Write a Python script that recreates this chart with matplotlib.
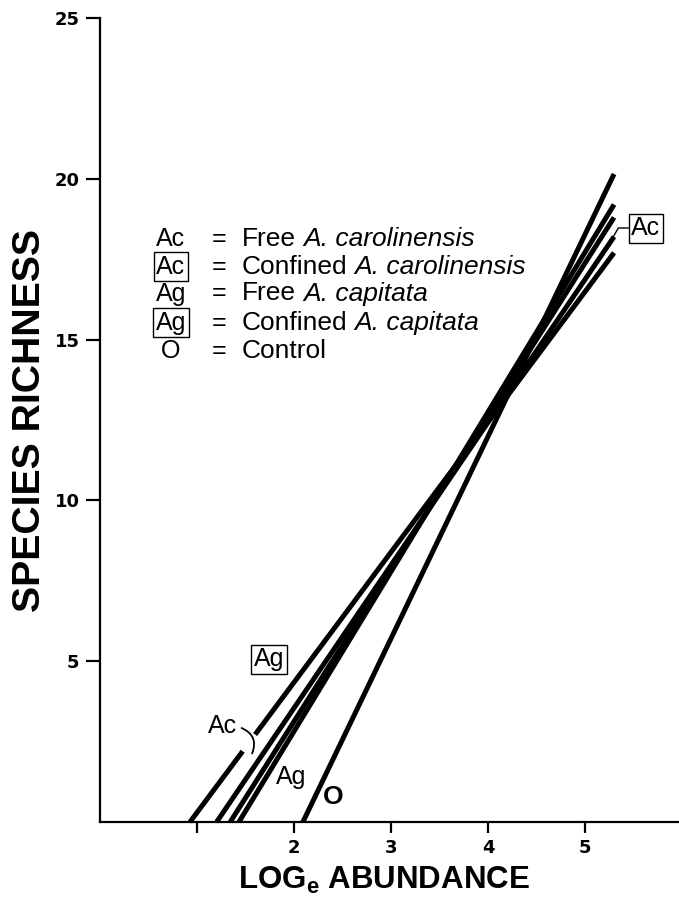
import matplotlib
matplotlib.use("Agg")
import matplotlib.pyplot as plt
from matplotlib import font_manager
from matplotlib.patches import FancyArrowPatch

# Fitted regressions of species richness on log abundance: each line runs from
# where it meets zero richness to its value at the right end of the fit.
series_names = ["Confined A. capitata", "Confined A. carolinensis",
                "Free A. carolinensis", "Free A. capitata", "Control"]
x_zero = [0.925, 1.20, 1.34, 1.43, 2.09]
x_end = [5.30, 5.30, 5.30, 5.30, 5.30]
y_end = [17.7, 18.2, 18.8, 19.2, 20.15]

x_ticks = [1, 2, 3, 4, 5]
x_tick_labels = ["", "2", "3", "4", "5"]
y_ticks = [5, 10, 15, 20, 25]
y_tick_labels = ["5", "10", "15", "20", "25"]

legend_codes = ["Ac", "Ac", "Ag", "Ag", "O"]
legend_boxed = [False, True, False, True, False]
legend_plain = ["Free ", "Confined ", "Free ", "Confined ", "Control"]
legend_italic = ["A. carolinensis", "A. carolinensis", "A. capitata", "A. capitata", ""]

W, H = 679, 897
plt.rcParams["font.family"] = ["Liberation Sans", "DejaVu Sans"]
plt.rcParams["mathtext.fontset"] = "custom"
plt.rcParams["mathtext.rm"] = "Liberation Sans"
plt.rcParams["mathtext.it"] = "Liberation Sans:italic"
plt.rcParams["mathtext.bf"] = "Liberation Sans:bold"

fig = plt.figure(figsize=(W / 100, H / 100), dpi=100)
ax = fig.add_axes([100.3 / W, 1 - 822 / H, 1 - 100.3 / W, (822 - 18) / H])
ax.set_xlim(0, 5.97)
ax.set_ylim(0, 25)


def fig_xy(px, py):
    return px / W, 1 - py / H


lw = 3.6
# gap in the leftmost line where the bracket passes
gap_lo, gap_hi = 2.2, 2.72
for i, (x0, x1, y1) in enumerate(zip(x_zero, x_end, y_end)):
    slope = y1 / (x1 - x0)
    if i == 0:
        xa = x0 + gap_lo / slope
        xb = x0 + gap_hi / slope
        ax.plot([x0, xa], [0, gap_lo], color="black", lw=lw, solid_capstyle="butt", clip_on=False)
        ax.plot([xb, x1], [gap_hi, y1], color="black", lw=lw, solid_capstyle="butt", clip_on=False)
    else:
        ax.plot([x0, x1], [0, y1], color="black", lw=lw, solid_capstyle="butt", clip_on=False)

# axes styling
for side in ["top", "right"]:
    ax.spines[side].set_visible(False)
for side in ["left", "bottom"]:
    ax.spines[side].set_linewidth(1.6)
tick_font = dict(family="DejaVu Sans", weight="bold", size=13)
ax.set_xticks(x_ticks)
ax.set_xticklabels(x_tick_labels, fontdict=tick_font)
ax.set_yticks(y_ticks)
ax.set_yticklabels(y_tick_labels, fontdict=tick_font)
ax.tick_params(axis="x", direction="out", length=8, width=1.6, pad=4)
ax.tick_params(axis="y", direction="out", length=10, width=1.6, pad=5)

# axis titles
fx, fy = fig_xy(384, 880)
fig.text(fx, fy, r"LOG$_{\mathbf{e}}$ ABUNDANCE", fontsize=22.5, fontweight="bold",
         ha="center", va="center")

narrow = None
try:
    narrow = font_manager.findfont(font_manager.FontProperties(family="Liberation Sans Narrow", weight="bold"),
                                   fallback_to_default=False)
except Exception:
    narrow = None
ylab_family = ["Liberation Sans Narrow", "Liberation Sans"] if narrow else ["Liberation Sans"]
fx, fy = fig_xy(30, 420)
ylab = fig.text(fx, fy, "SPECIES RICHNESS", fontsize=28, fontweight="bold", rotation=90,
                ha="center", va="center", family=ylab_family)
fig.canvas.draw()
renderer = fig.canvas.get_renderer()
ext = ylab.get_window_extent(renderer)
ylab.set_fontsize(28 * 384 / ext.height)

# key of line codes
rows_y = [236, 264, 291, 320, 348]
fs = 18
fs_desc = 19
box = dict(boxstyle="square,pad=0.1", fc="white", ec="black", lw=1.0)
for code, boxed, plain, ital, py in zip(legend_codes, legend_boxed, legend_plain, legend_italic, rows_y):
    fx, fy = fig_xy(171, py)
    fig.text(fx, fy, code, fontsize=fs, ha="center", va="center_baseline",
             bbox=box if boxed else None)
    fx, fy = fig_xy(219, py)
    fig.text(fx, fy, "=", fontsize=fs, ha="center", va="center_baseline")
    fx, fy = fig_xy(242, py)
    t = fig.text(fx, fy, plain.strip(), fontsize=fs_desc, ha="left", va="center_baseline")
    if ital:
        e = t.get_window_extent(renderer)
        space = 7
        fig.text((e.x1 + space) / W, fy, ital, fontsize=fs_desc, style="italic",
                 ha="left", va="center_baseline")

# labels beside the lines
fx, fy = fig_xy(269, 659)
fig.text(fx, fy, "Ag", fontsize=fs, ha="center", va="center", bbox=box)
fx, fy = fig_xy(223, 726)
fig.text(fx, fy, "Ac", fontsize=fs, ha="center", va="center")
fig.add_artist(FancyArrowPatch(
    fig_xy(239, 727), fig_xy(251, 756), transform=fig.transFigure,
    arrowstyle="-", connectionstyle="arc3,rad=-0.55", lw=1.3, color="black"))
fx, fy = fig_xy(291, 777)
fig.text(fx, fy, "Ag", fontsize=fs, ha="center", va="center")
fx, fy = fig_xy(333, 797)
fig.text(fx, fy, "O", fontsize=19, fontweight="bold", ha="center", va="center")

# boxed label for the confined A. carolinensis line at its upper end
slope1 = y_end[1] / (x_end[1] - x_zero[1])
pt = (x_end[1] - 0.05, slope1 * (x_end[1] - 0.05 - x_zero[1]))
ax.annotate("Ac", xy=pt, xycoords="data", xytext=fig_xy(646, 228), textcoords="figure fraction",
            fontsize=fs, ha="center", va="center", bbox=box,
            arrowprops=dict(arrowstyle="-", lw=1.0, color="black", shrinkA=0, shrinkB=0,
                            connectionstyle="angle,angleA=180,angleB=-120,rad=0"),
            annotation_clip=False)

fig.savefig("out.png", dpi=100)
